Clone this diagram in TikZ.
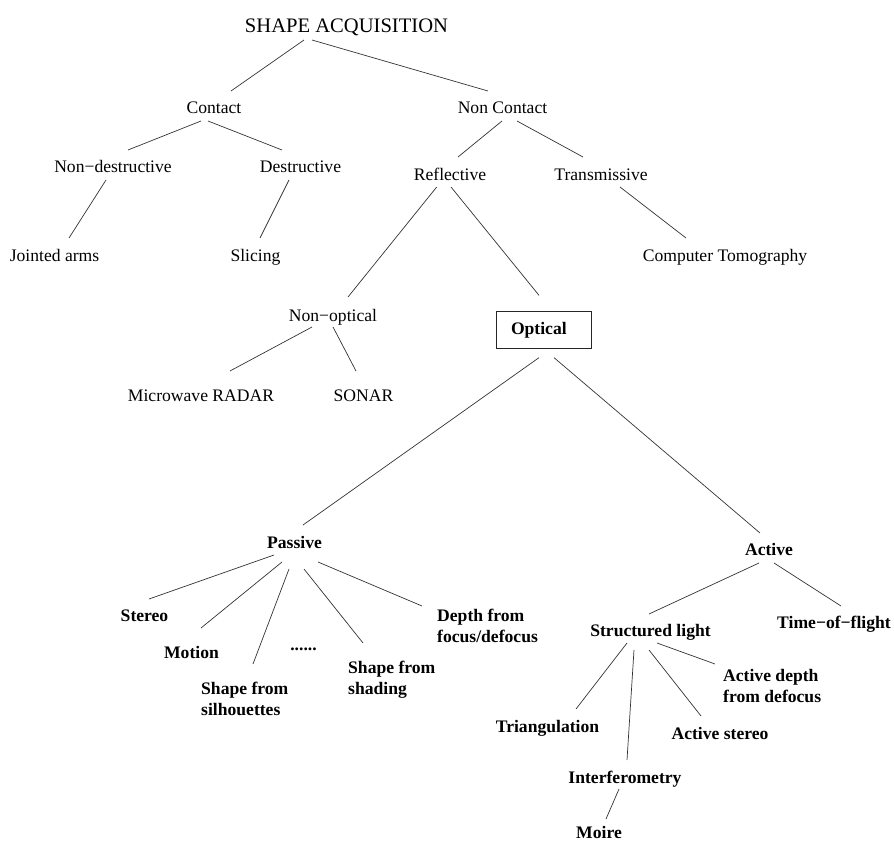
\documentclass[tikz,border=0pt]{standalone}
\usepackage{fontspec}
\setmainfont{Liberation Serif}
\usepackage{tikz}
\usetikzlibrary{calc,positioning}
\tikzset{
    leaf/.style={
        inner sep=0pt,
        anchor=base,
        font=\fontsize{17.6}{21.5}\selectfont
    },
    leafbold/.style={leaf, font=\bfseries\fontsize{17.6}{21.5}\selectfont},
    multi/.style={leafbold, anchor=base west, align=left},
    optbox/.style={
        leafbold,
        anchor=center,
        draw=black!85, line width=0.7pt,
        inner xsep=15pt, inner ysep=0pt,
        text width=65pt,
        minimum height=36.6pt,
        align=left
    },
    branch/.style={draw=black!80, line width=0.7pt}
}

\begin{document}
\begin{tikzpicture}[x=1pt, y=-1pt]
\useasboundingbox (0,0) rectangle (894,842);

\node[leaf, font=\fontsize{20.6}{24}\selectfont] (root) at (346.5,33) {SHAPE ACQUISITION};
\node[leaf] (contact) at (214,114) {Contact};
\node[leaf] (noncontact) at (502.5,114) {Non Contact};
\node[leaf] (nondestr) at (113,173) {Non−destructive};
\node[leaf] (destr) at (300.5,173) {Destructive};
\node[leaf] (reflective) at (450,181) {Reflective};
\node[leaf] (transm) at (601,181) {Transmissive};
\node[leaf] (jointed) at (54.5,262) {Jointed arms};
\node[leaf] (slicing) at (255.5,262) {Slicing};
\node[leaf] (tomo) at (725,262) {Computer Tomography};
\node[leaf] (nonoptical) at (333,321) {Non−optical};
\node[optbox] (optical) at (543.5,330) {Optical};
\node[leaf] (radar) at (201,401) {Microwave RADAR};
\node[leaf] (sonar) at (363.5,401) {SONAR};

\node[leafbold] (passive) at (294.5,548) {Passive};
\node[leafbold] (active) at (769,555) {Active};
\node[leafbold] (stereo) at (144.5,621) {Stereo};
\node[leafbold] (motion) at (191.5,658) {Motion};
\node[multi] (silh) at (201,715.5) {Shape from\\silhouettes};
\node[leafbold] (dots) at (303.5,650) {......};
\node[multi] (shading) at (348,694.5) {Shape from\\shading};
\node[multi] (depth) at (437,642.5) {Depth from\\focus/defocus};
\node[leafbold] (structured) at (650.5,636) {Structured light};
\node[leafbold, anchor=base west] (tof) at (777,628) {Time−of−flight};
\node[multi] (adepth) at (723,702.5) {Active depth\\from defocus};
\node[leafbold] (triang) at (547.5,732) {Triangulation};
\node[leafbold] (astereo) at (720,739) {Active stereo};
\node[leafbold] (interf) at (625,783) {Interferometry};
\node[leafbold] (moire) at (599,838.5) {Moire};

% upper tree
\draw[branch] ($(root.base)+(-42.5,7)$) -- ($(contact.base)+(17,-23)$);
\draw[branch] ($(root.base)+(-34.5,7)$) -- ($(noncontact.base)+(-14.5,-23)$);
\draw[branch] ($(contact.base)+(-13,7)$) -- ($(nondestr.base)+(15,-23)$);
\draw[branch] ($(contact.base)+(-6,7)$) -- ($(destr.base)+(-18.5,-23)$);
\draw[branch] ($(nondestr.base)+(-7,7)$) -- ($(jointed.base)+(14.5,-24)$);
\draw[branch] ($(destr.base)+(-11.5,7)$) -- ($(slicing.base)+(4.5,-24)$);
\draw[branch] ($(noncontact.base)+(-0.5,7)$) -- ($(reflective.base)+(8,-24)$);
\draw[branch] ($(noncontact.base)+(14.5,7)$) -- ($(transm.base)+(-18,-24)$);
\draw[branch] ($(reflective.base)+(-13.3,6)$) -- ($(nonoptical.base)+(15,-24)$);
\draw[branch] ($(reflective.base)+(1,6)$) -- ($(optical.north)+(-4.5,-16)$);
\draw[branch] ($(transm.base)+(19,6)$) -- ($(tomo.base)+(-39,-24)$);
\draw[branch] ($(nonoptical.base)+(-21,6)$) -- ($(radar.base)+(29,-30)$);
\draw[branch] ($(nonoptical.base)+(0,6)$) -- ($(sonar.base)+(-7.5,-30)$);

% optical methods
\draw[branch] ($(optical.south)+(-4.5,9)$) -- ($(passive.base)+(8.5,-23)$);
\draw[branch] ($(optical.south)+(10.5,9)$) -- ($(active.base)+(-9,-22)$);
\draw[branch] ($(passive.base)+(-20.5,7)$) -- ($(stereo.base)+(4.5,-22)$);
\draw[branch] ($(passive.base)+(-12.5,14)$) -- ($(motion.base)+(9.5,-30)$);
\draw[branch] ($(passive.base)+(-5.5,21)$) -- ($(silh.base west)+(52,-51.5)$);
\draw[branch] ($(passive.base)+(9.5,21)$) -- ($(shading.base west)+(15,-51.5)$);
\draw[branch] ($(passive.base)+(23.5,14)$) -- ($(depth.base west)+(-15,-36.5)$);
\draw[branch] ($(active.base)+(-10,8)$) -- ($(structured.base)+(-1.5,-22)$);
\draw[branch] ($(active.base)+(5,8)$) -- ($(tof.base west)+(64,-22)$);
\draw[branch] ($(structured.base)+(-23.5,7)$) -- ($(triang.base)+(28.5,-23)$);
\draw[branch] ($(structured.base)+(-16.5,14)$) -- ($(interf.base)+(2,-23)$);
\draw[branch] ($(structured.base)+(-1.5,14)$) -- ($(astereo.base)+(-19,-23)$);
\draw[branch] ($(structured.base)+(6.5,7)$) -- ($(adepth.base west)+(-8,-38.5)$);
\draw[branch] ($(interf.base)+(-6,6)$) -- ($(moire.base)+(7,-19.5)$);
\end{tikzpicture}
\end{document}
